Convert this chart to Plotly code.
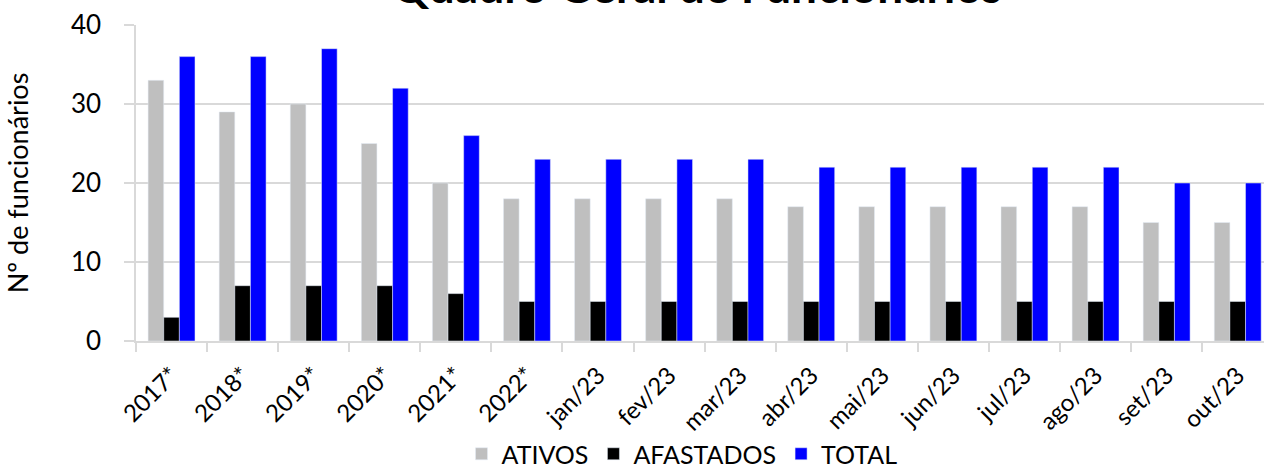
import plotly.graph_objects as go

categories = ["2017*", "2018*", "2019*", "2020*", "2021*", "2022*", "jan/23", "fev/23",
              "mar/23", "abr/23", "mai/23", "jun/23", "jul/23", "ago/23", "set/23", "out/23"]
ativos = [33, 29, 30, 25, 20, 18, 18, 18, 18, 17, 17, 17, 17, 17, 15, 15]
afastados = [3, 7, 7, 7, 6, 5, 5, 5, 5, 5, 5, 5, 5, 5, 5, 5]
total = [36, 36, 37, 32, 26, 23, 23, 23, 23, 22, 22, 22, 22, 22, 20, 20]
y_ticks = [0, 10, 20, 30, 40]

FONT = "Lato"
W, H = 1264, 467

fig = go.Figure()
fig.add_trace(go.Bar(x=categories, y=ativos, name="ATIVOS", marker_color="#BFBFBF"))
fig.add_trace(go.Bar(x=categories, y=afastados, name="AFASTADOS", marker_color="#000000"))
fig.add_trace(go.Bar(x=categories, y=total, name="TOTAL", marker_color="#0000FF"))

fig.add_annotation(text="<b>Quadro Geral de Funcionários</b>", xref="paper", yref="paper",
                   x=(697 - 136) / 1128, y=1.125, xanchor="center", yanchor="middle",
                   showarrow=False, font=dict(family=FONT, size=46, color="black"))

fig.update_layout(
    width=W, height=H,
    margin=dict(l=136, r=0, t=25, b=126, autoexpand=False),
    paper_bgcolor="white", plot_bgcolor="white",
    barmode="group", bargap=0.34, bargroupgap=0,
    font=dict(family=FONT, color="black"),
    showlegend=True,
    legend=dict(orientation="h", xref="container", yref="container",
                x=682 / W, xanchor="center", y=(H - 454) / H, yanchor="middle",
                bgcolor="rgba(0,0,0,0)",
                font=dict(size=25, family=FONT), traceorder="normal"),
)
fig.update_xaxes(
    type="category", range=[-0.5, 15.37], automargin=False,
    tickangle=-45, tickfont=dict(size=24, family=FONT),
    showline=True, linecolor="#D9D9D9", linewidth=1.5,
    ticks="outside", tickson="boundaries", ticklen=9, tickcolor="#D9D9D9", tickwidth=1.5,
    ticklabelstandoff=9,
    showgrid=False,
)
fig.update_yaxes(
    range=[0, 40], tickvals=y_ticks, automargin=False,
    tickfont=dict(size=26, family=FONT),
    showline=True, linecolor="#D9D9D9", linewidth=1.5,
    ticks="outside", ticklen=10, tickcolor="#D9D9D9", tickwidth=1.5,
    ticklabelstandoff=18,
    showgrid=True, gridcolor="#D9D9D9", gridwidth=1.5,
    zeroline=False,
    title=dict(text="Nº de funcionários", font=dict(size=27, family=FONT), standoff=34),
)

fig.write_html("out.html", config={"displayModeBar": False},
               post_script="document.body.style.margin='0';")
